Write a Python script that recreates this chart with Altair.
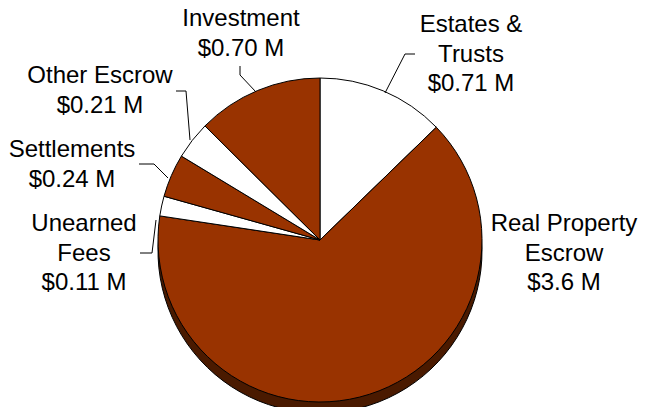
import altair as alt
import pandas as pd

# ---- data ----
categories = ["Estates & Trusts", "Real Property Escrow", "Unearned Fees",
              "Settlements", "Other Escrow", "Investment"]
values = [0.71, 3.6, 0.11, 0.24, 0.21, 0.70]
value_labels = ["$0.71 M", "$3.6 M", "$0.11 M", "$0.24 M", "$0.21 M", "$0.70 M"]
name_lines = ["Estates &\nTrusts", "Real Property\nEscrow", "Unearned\nFees",
              "Settlements", "Other Escrow", "Investment"]

df = pd.DataFrame({
    "category": categories,
    "value": values,
    "order": list(range(len(categories))),
    "label": [n + "\n" + v for n, v in zip(name_lines, value_labels)],
})

# ---- styling / layout (chart pixel space) ----
BROWN = "#993300"
SHADOW = "#4a1a00"
slice_colors = ["white", BROWN, "white", BROWN, "white", BROWN]
CX, CY, R = 312, 232, 162
SHADOW_DY = 11
FONT = "Liberation Sans"

# label anchor (center x, first baseline y)
label_pos = {
    "Estates & Trusts": (463, 24),
    "Real Property Escrow": (556, 223),
    "Unearned Fees": (76, 223),
    "Settlements": (64, 149),
    "Other Escrow": (92, 75),
    "Investment": (233, 18),
}
# leader line segments (x, y, x2, y2)
leaders = [
    (377, 85, 397, 46), (397, 46, 407, 46),        # Estates & Trusts
    (248, 84, 232, 67), (232, 67, 232, 58),        # Investment
    (182, 132, 178, 83), (178, 83, 168, 83),       # Other Escrow
    (160, 170, 146, 156), (146, 156, 131, 156),    # Settlements
    (148, 212, 144, 245), (144, 245, 132, 245),    # Unearned Fees
]

base = alt.Chart(df)

shadow = base.mark_arc(stroke="black", strokeWidth=1, color=SHADOW).encode(
    theta=alt.Theta("value:Q", stack=True),
    order=alt.Order("order:Q"),
    x=alt.value(CX), y=alt.value(CY + SHADOW_DY),
    radius=alt.value(R),
)

pie = base.mark_arc(stroke="black", strokeWidth=1).encode(
    theta=alt.Theta("value:Q", stack=True),
    order=alt.Order("order:Q"),
    color=alt.Color("category:N", scale=alt.Scale(domain=categories, range=slice_colors),
                    legend=None),
    x=alt.value(CX), y=alt.value(CY),
    radius=alt.value(R),
)

layers = [shadow, pie]

one = pd.DataFrame({"k": [0]})
for (x1, y1, x2, y2) in leaders:
    layers.append(
        alt.Chart(one).mark_rule(color="black", strokeWidth=1).encode(
            x=alt.value(x1), y=alt.value(y1), x2=alt.value(x2), y2=alt.value(y2)
        )
    )

for cat in categories:
    lx, ly = label_pos[cat]
    layers.append(
        base.transform_filter(alt.datum.category == cat).mark_text(
            font=FONT, fontSize=24, lineBreak="\n", lineHeight=29.5,
            align="center", baseline="alphabetic", color="black"
        ).encode(text="label:N", x=alt.value(lx), y=alt.value(ly))
    )

chart = alt.layer(*layers).properties(
    width=630, height=399, padding=0, autosize=alt.AutoSizeParams(type="none")
).configure_view(stroke=None)

chart.save("out.html", embed_options={"renderer": "svg", "actions": False})
